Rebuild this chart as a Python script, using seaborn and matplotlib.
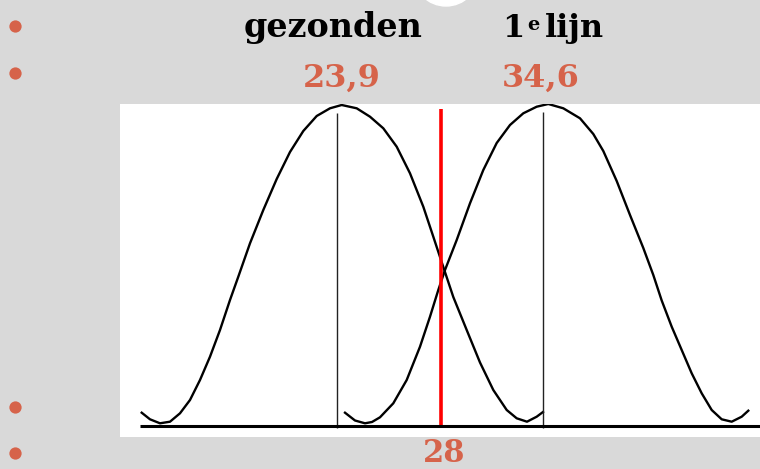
import matplotlib
matplotlib.use("Agg")
import matplotlib.pyplot as plt
from matplotlib.patches import Circle
import seaborn as sns
import pandas as pd

# ---- data (schematic units) ----
left_x = [21.7, 30, 40, 50, 60, 70, 80, 90, 100, 110, 118.3, 130, 143.3, 156.7, 170,
          183.3, 196.7, 210, 221.7, 236.7, 250, 263.3, 276.7, 290, 303.3, 313.3, 323.3,
          333.3, 346.7, 360, 373.3, 386.7, 396.7, 407, 416.7, 423]
left_y = [24.3, 17.7, 13.7, 15.3, 23.7, 37, 57, 80.3, 107, 137, 160.3, 193.7, 227, 258,
          285, 306, 321, 328.7, 332, 328.7, 320.3, 308.7, 290.3, 263.7, 230.3, 200.3,
          170, 140, 107, 74.5, 47, 27, 18.7, 15.3, 20.3, 25]
right_x = [225, 235, 245, 252, 260, 273.3, 286.7, 300, 310, 318.3, 325, 336.7, 350, 363.3,
           376.7, 390, 403.3, 416.7, 428.3, 443.3, 460, 473.3, 483.3, 496.7, 510, 523.3,
           533.3, 541.7, 551.7, 561.7, 571.7, 581.7, 591.7, 601.7, 611.7, 621.7, 628.3]
right_y = [24.3, 16.5, 13.7, 15, 19.7, 33.7, 57, 90.3, 120.3, 147, 167, 197, 233.7, 267,
           294, 312, 323.7, 330.3, 333, 328.7, 318.7, 303, 286, 256, 222, 189,
           162, 136.5, 110.3, 87, 63.7, 43.7, 27, 17.7, 15.3, 20.3, 26.3]
peak_x = [217.3, 422.7]
peak_top = [324, 325]
peak_bottom = 9
cutoff_x = 321
cutoff_range = [11, 328]
base_y = 11.3
base_range = [19.5, 640]

group_labels = ["gezonden", "1", "e", "lijn"]
mean_labels = ["23,9", "34,6"]
cutoff_label = "28"

ORANGE = "#D6634A"
BG = "#D9D9D9"

df = pd.concat([
    pd.DataFrame({"x": left_x, "y": left_y, "groep": "gezonden"}),
    pd.DataFrame({"x": right_x, "y": right_y, "groep": "1e lijn"}),
])

fig = plt.figure(figsize=(7.6, 4.69), dpi=100, facecolor=BG)

# background / annotation layer in pixel units
bg = fig.add_axes([0, 0, 1, 1])
bg.set_xlim(0, 760)
bg.set_ylim(469, 0)
bg.axis("off")
bg.set_zorder(0)
bg.add_patch(Circle((446, -27), 33, color="white"))
bg.scatter([15, 15, 15, 15], [26, 73, 407, 453], s=78, color=ORANGE, linewidths=0)

font = dict(family="DejaVu Serif", weight="bold")
bg.text(244, 36.7, group_labels[0], fontsize=24, color="black", ha="left", va="baseline", **font)
bg.text(502, 36.7, group_labels[1], fontsize=23, color="black", ha="left", va="baseline", **font)
bg.text(527, 29.5, group_labels[2], fontsize=14, color="black", ha="left", va="baseline", **font)
bg.text(545, 36.7, group_labels[3], fontsize=23, color="black", ha="left", va="baseline", **font)
bg.text(303, 87, mean_labels[0], fontsize=23, color=ORANGE, ha="left", va="baseline", **font)
bg.text(502, 87, mean_labels[1], fontsize=23, color=ORANGE, ha="left", va="baseline", **font)
bg.text(444, 462, cutoff_label, fontsize=22, color=ORANGE, ha="center", va="baseline", **font)

# main drawing panel
ax = fig.add_axes([120 / 760, (469 - 437) / 469, 640 / 760, 333 / 469])
ax.set_zorder(1)
ax.set_facecolor("white")
sns.lineplot(data=df, x="x", y="y", units="groep", estimator=None, sort=False,
             color="black", linewidth=1.7, ax=ax, legend=False)
ax.vlines(peak_x, peak_bottom, peak_top, color="#222222", linewidth=1.0)
ax.vlines(cutoff_x, cutoff_range[0], cutoff_range[1], color="#FF0000", linewidth=2.6, zorder=5)
ax.hlines(base_y, base_range[0], base_range[1], color="black", linewidth=2.2, zorder=6)
ax.set_xlim(0, 640)
ax.set_ylim(0, 333)
ax.set_xticks([])
ax.set_yticks([])
ax.set_xlabel("")
ax.set_ylabel("")
for s in ax.spines.values():
    s.set_visible(False)

fig.savefig("out.png", dpi=100, facecolor=BG)
